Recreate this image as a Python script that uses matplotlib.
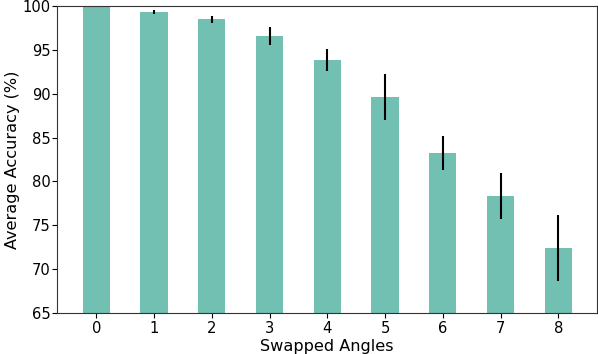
import matplotlib
matplotlib.use("Agg")
import matplotlib.pyplot as plt

categories = [0, 1, 2, 3, 4, 5, 6, 7, 8]
accuracy = [100.0, 99.3, 98.5, 96.6, 93.85, 89.6, 83.25, 78.35, 72.4]
errors = [0.0, 0.25, 0.4, 1.0, 1.3, 2.6, 1.95, 2.6, 3.8]

fig = plt.figure(figsize=(5.98, 3.54), dpi=100)
ax = fig.add_axes([57/598, 1-313/354, 540/598, 307/354])
ax.bar(categories, accuracy, width=0.47, color='#71c0b2', yerr=errors,
       error_kw=dict(ecolor='black', elinewidth=1.5, capsize=0))
ax.set_ylim(65, 100)
ax.set_xlim(-0.68, 8.67)
ax.set_xticks(categories)
ax.set_xticklabels([str(c) for c in categories])
ax.tick_params(labelsize=10.6, length=3.5)
ax.tick_params(axis='y', pad=1.2)
ax.tick_params(axis='x', pad=2.2)
ax.set_xlabel('Swapped Angles', fontsize=11.6, labelpad=2)
ax.set_ylabel('Average Accuracy (%)', fontsize=11.6, labelpad=2)
for s in ax.spines.values():
    s.set_color('#333333')
fig.savefig('out.png', dpi=100)
